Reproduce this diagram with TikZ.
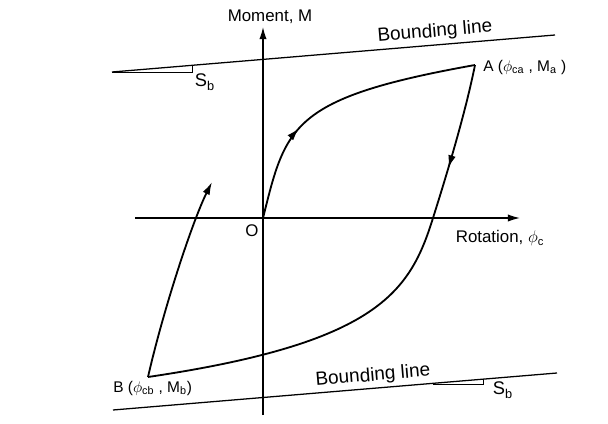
\documentclass[tikz,border=0pt]{standalone}
\usepackage{amsmath}
\usepackage{fontspec}
\setmainfont{Liberation Sans}
\usepackage{tikz}
\usetikzlibrary{arrows.meta,decorations.markings}
\tikzset{
  axisarrow/.style={-{Latex[length=3mm, width=1.8mm]}, line width=0.9pt},
  loopline/.style={line width=1.3pt},
  tiparrow/.style={-{Latex[length=3.2mm, width=1.9mm]}, line width=1.3pt},
  midarrow/.style={postaction={decorate}, decoration={markings,
      mark=at position #1 with {\arrow{Latex[length=3.2mm, width=1.9mm]}}}},
  boundline/.style={line width=0.9pt},
  slopetri/.style={line width=0.5pt},
  axlabel/.style={font=\fontsize{12}{14}\selectfont, inner sep=1pt},
  ptlabel/.style={font=\fontsize{11}{13}\selectfont, anchor=west, inner sep=0pt},
  bdlabel/.style={font=\fontsize{13.5}{15}\selectfont, rotate=4.8, inner sep=0pt},
  slabel/.style={font=\fontsize{13}{15}\selectfont, inner sep=0pt}
}

\begin{document}
\begin{tikzpicture}[x=0.025cm, y=-0.025cm]
  \useasboundingbox (0,0) rectangle (608,423);
  % axes
  \coordinate (xl) at (135,218);
  \coordinate (xr) at (520,218);
  \coordinate (yb) at (263,415);
  \coordinate (yt) at (263,27);
  \draw[axisarrow] (xl) -- (xr);
  \draw[axisarrow] (yb) -- (yt);
  \node[axlabel] (mlab) at (270,17) {Moment, M};
  \node[axlabel] (rlab) at (500,238) {Rotation, $\phi_{\text{c}}$};
  \node[axlabel] (olab) at (252,231) {O};

  % bounding lines
  \coordinate (ub1) at (112,72);
  \coordinate (ub2) at (555,35);
  \coordinate (lb1) at (113,410);
  \coordinate (lb2) at (557,373);
  \draw[boundline] (ub1) -- (ub2);
  \draw[boundline] (lb1) -- (lb2);
  \draw[slopetri] (ub1) -- (192,72) -- (192,65.3);
  \draw[slopetri] (433,384) -- (483,384) -- (483,379);
  \node[bdlabel] (ubl) at (435,32) {Bounding line};
  \node[bdlabel] (lbl) at (373,376) {Bounding line};
  \node[slabel] (us) at (205,82) {S$_{\text{b}}$};
  \node[slabel] (ls) at (503,390) {S$_{\text{b}}$};

  % hysteresis loop
  \coordinate (orig) at (263,218);
  \coordinate (ptA) at (475,65);
  \coordinate (cross) at (433,218);
  \coordinate (ptB) at (148,377);
  \coordinate (rel) at (212,182);
  \draw[loopline, midarrow=0.34] (orig) .. controls (286,126) and (290,98) .. (ptA);
  \draw[loopline, midarrow=0.21, line join=miter] (ptA) .. controls (465,115) and (445,180) .. (cross)
    .. controls (410,292) and (378,343) .. (ptB);
  \draw[tiparrow, line join=miter] (ptB) .. controls (164,307) and (193,220) .. (rel);
  \node[ptlabel] (labA) at (483,67) {A ($\phi_{\text{ca}}$ , M$_{\text{a}}$ )};
  \node[ptlabel] (labB) at (113,388) {B ($\phi_{\text{cb}}$ , M$_{\text{b}}$)};
\end{tikzpicture}
\end{document}
